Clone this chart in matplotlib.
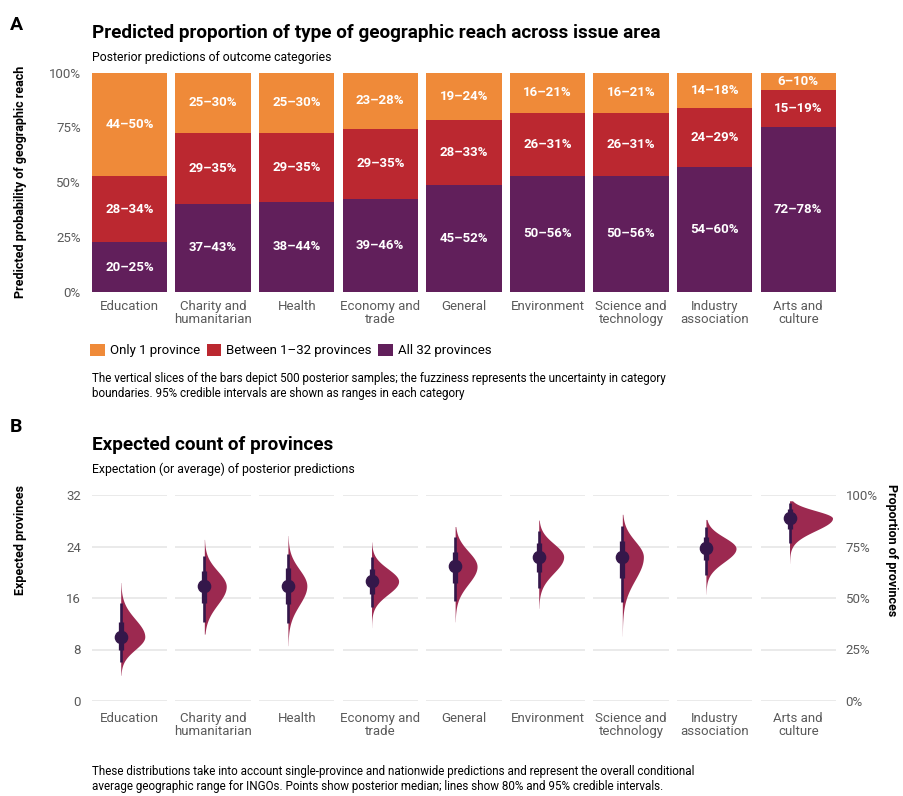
import numpy as np
import matplotlib.pyplot as plt
from matplotlib.patches import Patch

plt.rcParams['font.family'] = ['Roboto', 'DejaVu Sans']

W, H = 904, 796

categories = ["Education", "Charity and\nhumanitarian", "Health", "Economy and\ntrade",
              "General", "Environment", "Science and\ntechnology", "Industry\nassociation",
              "Arts and\nculture"]

# Panel A: 95% credible intervals (%) for each outcome category
all32_lo = [20, 37, 38, 39, 45, 50, 50, 54, 72]
all32_hi = [25, 43, 44, 46, 52, 56, 56, 60, 78]
between_lo = [28, 29, 29, 29, 28, 26, 26, 24, 15]
between_hi = [34, 35, 35, 35, 33, 31, 31, 29, 19]
only1_lo = [44, 25, 25, 23, 19, 16, 16, 14, 6]
only1_hi = [50, 30, 30, 28, 24, 21, 21, 18, 10]

# Panel B: expected provinces (posterior summaries)
exp_median = [10.0, 17.8, 17.9, 18.6, 20.9, 22.4, 22.4, 23.7, 28.4]
exp_q10 = [7.9, 15.3, 15.1, 16.6, 18.3, 20.0, 19.1, 21.9, 26.7]
exp_q90 = [12.3, 20.2, 20.7, 20.5, 23.2, 24.5, 24.9, 25.5, 29.8]
exp_q025 = [6.1, 12.3, 12.1, 14.6, 15.6, 17.5, 15.4, 19.6, 24.6]
exp_q975 = [15.3, 22.5, 22.9, 22.4, 25.5, 26.4, 27.2, 27.1, 30.7]
exp_min = [4.0, 10.4, 8.6, 11.4, 12.3, 14.4, 10.1, 16.6, 21.4]
exp_max = [18.4, 25.1, 25.7, 24.7, 27.1, 28.1, 29.0, 28.2, 31.1]
# density at the mode, relative to the tallest slab
peak_density = [0.56, 0.51, 0.44, 0.63, 0.51, 0.58, 0.49, 0.70, 1.0]

orange = "#ef8a39"
red = "#bb2830"
purple = "#611f5b"
slab_col = "#9c2950"
point_col = "#34174a"
grid_col = "#e6e6e6"
tick_col = "#5a5a5a"


def box(x0, y0, x1, y1):
    # pixel box (top-left origin) -> figure fraction rect
    return [x0 / W, 1 - y1 / H, (x1 - x0) / W, (y1 - y0) / H]


def ftext(x, y, s, **kw):
    fig.text(x / W, 1 - y / H, s, **kw)


x = np.arange(len(categories))
mid_all = (np.array(all32_lo) + np.array(all32_hi)) / 200
mid_one = (np.array(only1_lo) + np.array(only1_hi)) / 200
mid_between = 1 - mid_all - mid_one

fig = plt.figure(figsize=(W / 100, H / 100), dpi=100)

# ---- Panel A ----
axA = fig.add_axes(box(87.7, 72.7, 840.1, 291.7))
axA.bar(x, mid_all, width=0.9, color=purple)
axA.bar(x, mid_between, bottom=mid_all, width=0.9, color=red)
axA.bar(x, mid_one, bottom=mid_all + mid_between, width=0.9, color=orange)

for i in x:
    segs = [(all32_lo[i], all32_hi[i], 0, mid_all[i]),
            (between_lo[i], between_hi[i], mid_all[i], mid_between[i]),
            (only1_lo[i], only1_hi[i], mid_all[i] + mid_between[i], mid_one[i])]
    for lo, hi, b, h in segs:
        axA.text(i, b + h / 2, f"{lo}–{hi}%", color="white", fontsize=9.5,
                 fontweight="bold", ha="center", va="center")

axA.set_xlim(-0.5, 8.5)
axA.set_ylim(0, 1)
axA.set_xticks(x)
axA.set_xticklabels(categories, fontsize=9.5, color=tick_col, linespacing=1.0)
axA.set_yticks([0, 0.25, 0.5, 0.75, 1])
axA.set_yticklabels(["0%", "25%", "50%", "75%", "100%"], fontsize=9.5, color=tick_col)
axA.tick_params(length=0, pad=5)
axA.tick_params(axis="x", pad=6)
for sp in axA.spines.values():
    sp.set_visible(False)
axA.set_ylabel("Predicted probability of geographic reach", fontsize=9, fontweight="bold")
axA.yaxis.set_label_coords(-0.081, 0.5)

handles = [Patch(facecolor=orange, label="Only 1 province"),
           Patch(facecolor=red, label="Between 1–32 provinces"),
           Patch(facecolor=purple, label="All 32 provinces")]
fig.legend(handles=handles, ncol=3, loc="center left", frameon=False,
           bbox_to_anchor=(90 / W, 1 - 350.5 / H), fontsize=9.5,
           handlelength=1.1, handleheight=1.1, handletextpad=0.4,
           columnspacing=0.5, borderaxespad=0, borderpad=0)

# ---- Panel B ----
axB = fig.add_axes(box(87.7, 495, 840.1, 701))
axB.set_xlim(-0.5, 8.5)
axB.set_ylim(0, 32)
slab_max = 0.514
for i in x:
    axB.hlines([0, 8, 16, 24, 32], i - 0.45, i + 0.45, color=grid_col, lw=1.2, zorder=0)
    yy = np.linspace(exp_min[i], exp_max[i], 300)
    s_lo = (exp_median[i] - exp_q025[i]) / 1.96
    s_hi = (exp_q975[i] - exp_median[i]) / 1.96
    s = np.where(yy < exp_median[i], s_lo, s_hi)
    dens = np.exp(-0.5 * ((yy - exp_median[i]) / s) ** 2)
    x0 = i - 0.105
    axB.fill_betweenx(yy, x0, x0 + dens * peak_density[i] * slab_max,
                      color=slab_col, lw=0, clip_on=False, zorder=2)
    axB.vlines(x0, exp_q025[i], exp_q975[i], color=point_col, lw=1.9, zorder=3)
    axB.vlines(x0, exp_q10[i], exp_q90[i], color=point_col, lw=3.8, zorder=3)
    axB.plot(x0, exp_median[i], "o", ms=8.8, color=point_col, zorder=4, clip_on=False)

axB.set_xticks(x)
axB.set_xticklabels(categories, fontsize=9.5, color=tick_col, linespacing=1.0)
axB.set_yticks([0, 8, 16, 24, 32])
axB.set_yticklabels(["0", "8", "16", "24", "32"], fontsize=9.5, color=tick_col)
axB.tick_params(length=0, pad=5)
axB.tick_params(axis="x", pad=8)
for sp in axB.spines.values():
    sp.set_visible(False)
axB.set_ylabel("Expected provinces", fontsize=9, fontweight="bold")
axB.yaxis.set_label_coords(-0.081, 0.78)

axR = axB.twinx()
axR.set_ylim(0, 1)
axR.set_yticks([0, 0.25, 0.5, 0.75, 1])
axR.set_yticklabels(["0%", "25%", "50%", "75%", "100%"], fontsize=9.5, color=tick_col)
axR.tick_params(length=0, pad=4)
for sp in axR.spines.values():
    sp.set_visible(False)
axR.set_ylabel("Proportion of provinces", fontsize=9, fontweight="bold", rotation=270)
axR.yaxis.set_label_coords(1.0765, 0.73)

# ---- Titles and captions ----
ftext(10, 30, "A", fontsize=14, fontweight="bold", va="baseline")
ftext(92, 38, "Predicted proportion of type of geographic reach across issue area",
      fontsize=13.6, fontweight="bold", va="baseline")
ftext(92, 61, "Posterior predictions of outcome categories", fontsize=8.8, va="baseline")
ftext(92, 372, "The vertical slices of the bars depict 500 posterior samples; the fuzziness "
      "represents the uncertainty in category\nboundaries. 95% credible intervals are shown "
      "as ranges in each category", fontsize=8.4, va="top", linespacing=1.2)

ftext(10, 432, "B", fontsize=14, fontweight="bold", va="baseline")
ftext(92, 450, "Expected count of provinces", fontsize=13.6, fontweight="bold", va="baseline")
ftext(92, 473, "Expectation (or average) of posterior predictions", fontsize=8.8, va="baseline")
ftext(92, 765, "These distributions take into account single-province and nationwide "
      "predictions and represent the overall conditional\naverage geographic range for "
      "INGOs. Points show posterior median; lines show 80% and 95% credible intervals.",
      fontsize=8.4, va="top", linespacing=1.2)

fig.savefig("out.png", dpi=100)
